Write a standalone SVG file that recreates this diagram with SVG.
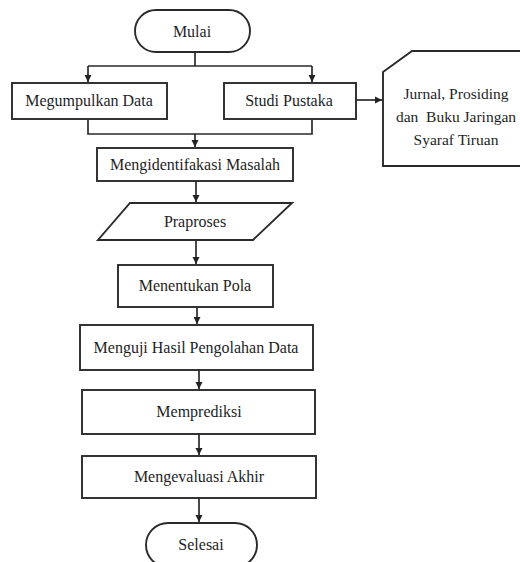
<svg xmlns="http://www.w3.org/2000/svg" width="520" height="562" viewBox="0 0 520 562">
<defs>
<marker id="ah" markerWidth="8" markerHeight="8" refX="7" refY="4" orient="auto" markerUnits="userSpaceOnUse">
<path d="M0,0.5 L7,4 L0,7.5 z" fill="#222"/>
</marker>
<style>
.s{fill:#fff;stroke:#2a2a2a;stroke-width:1.9}
.t{font-family:"Liberation Serif","Times New Roman",serif;font-size:16px;fill:#1e1e1e;text-anchor:middle}
.d{font-size:15.5px}
.c{fill:none;stroke:#2a2a2a;stroke-width:1.7}
</style>
</defs>
<rect width="520" height="562" fill="#fff"/>
<g id="connectors">
<path class="c" d="M195,52 V66 M88,66 H312"/>
<path class="c" d="M88,66 V82" marker-end="url(#ah)"/>
<path class="c" d="M312,66 V82" marker-end="url(#ah)"/>
<path class="c" d="M88,119 V134 H312 V119"/>
<path class="c" d="M195,134 V147" marker-end="url(#ah)"/>
<path class="c" d="M356,100 H382" marker-end="url(#ah)"/>
<path class="c" d="M196,181 V202" marker-end="url(#ah)"/>
<path class="c" d="M196,240 V264" marker-end="url(#ah)"/>
<path class="c" d="M197,307 V324" marker-end="url(#ah)"/>
<path class="c" d="M199,370 V389" marker-end="url(#ah)"/>
<path class="c" d="M199,434 V455" marker-end="url(#ah)"/>
<path class="c" d="M199,498 V522" marker-end="url(#ah)"/>
</g>
<g id="mulai">
<rect class="s" x="135" y="10" width="115" height="42" rx="21"/>
<text class="t" x="192" y="37">Mulai</text>
</g>
<g id="megumpulkan">
<rect class="s" x="12" y="83" width="155" height="36"/>
<text class="t" x="89" y="106">Megumpulkan Data</text>
</g>
<g id="studi">
<rect class="s" x="224" y="83" width="132" height="36"/>
<text class="t" x="289" y="106">Studi Pustaka</text>
</g>
<g id="referensi">
<path class="s" d="M383,72 L412,51 H525 V166 H383 Z"/>
<text class="t d" x="456" y="99">Jurnal, Prosiding</text>
<text class="t d" x="456" y="122" xml:space="preserve">dan  Buku Jaringan</text>
<text class="t d" x="456" y="145">Syaraf Tiruan</text>
</g>
<g id="identifikasi">
<rect class="s" x="97" y="148" width="196" height="33"/>
<text class="t" x="195" y="170">Mengidentifakasi Masalah</text>
</g>
<g id="praproses">
<path class="s" d="M130,203 H292 L253,240 H98 Z"/>
<text class="t" x="195" y="227">Praproses</text>
</g>
<g id="pola">
<rect class="s" x="118" y="265" width="155" height="42"/>
<text class="t" x="195" y="291">Menentukan Pola</text>
</g>
<g id="menguji">
<rect class="s" x="80" y="325" width="233" height="45"/>
<text class="t" x="196" y="353">Menguji Hasil Pengolahan Data</text>
</g>
<g id="prediksi">
<rect class="s" x="82" y="390" width="233" height="44"/>
<text class="t" x="199" y="417">Memprediksi</text>
</g>
<g id="evaluasi">
<rect class="s" x="82" y="456" width="234" height="42"/>
<text class="t" x="199" y="482">Mengevaluasi Akhir</text>
</g>
<g id="selesai">
<rect class="s" x="146" y="523" width="111" height="44" rx="22"/>
<text class="t" x="201" y="550">Selesai</text>
</g>
</svg>
